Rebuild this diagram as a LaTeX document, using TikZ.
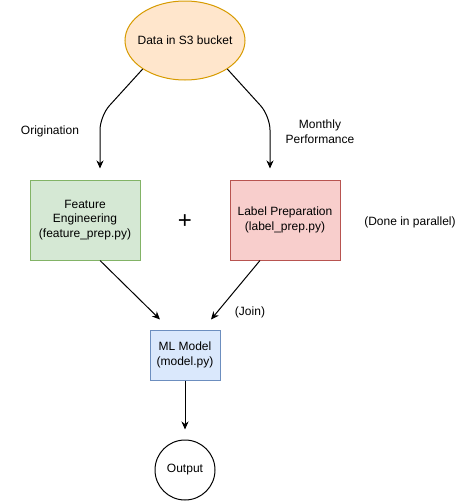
\documentclass[tikz,border=0pt]{standalone}
\usepackage{fontspec}
\setmainfont{Liberation Sans}
\usepackage{tikz}
\usetikzlibrary{shapes.geometric}
\usetikzlibrary{arrows.meta, positioning}

\definecolor{dataFill}{HTML}{FFE6CC}
\definecolor{dataLine}{HTML}{D79B00}
\definecolor{featFill}{HTML}{D5E8D4}
\definecolor{featLine}{HTML}{82B366}
\definecolor{labFill}{HTML}{F8CECC}
\definecolor{labLine}{HTML}{B85450}
\definecolor{mlFill}{HTML}{DAE8FC}
\definecolor{mlLine}{HTML}{6C8EBF}

\tikzset{
	box/.style={draw, line width=1pt, align=center, inner sep=2pt},
	arr/.style={-{Stealth[length=8pt,width=7pt,inset=2.5pt]}, line width=1pt},
}

\begin{document}
\begin{tikzpicture}[x=1pt,y=-1pt,font=\fontsize{12}{14.5}\selectfont]
		\useasboundingbox (0,0) rectangle (461,501);

		% sources and steps
		\node[ellipse, draw=dataLine, fill=dataFill, line width=1pt, minimum width=120pt, minimum height=79pt, inner sep=0pt, label=center:{Data in S3 bucket}] (data) at (185,40.5) {};
		\node[box, draw=featLine, fill=featFill, minimum width=110pt, minimum height=80pt] (feat) at (85,220) {Feature\\Engineering\\(feature\_prep.py)};
		\node[box, draw=labLine, fill=labFill, minimum width=110pt, minimum height=80pt] (lab) at (285,220) {Label Preparation\\(label\_prep.py)};
		\node[box, draw=mlLine, fill=mlFill, minimum width=70pt, minimum height=50pt] (ml) at (185,355) {ML Model\\(model.py)};
		\node[circle, draw, line width=1pt, minimum size=60pt, inner sep=0pt] (out) at (185,470) {Output};

		\node[font=\fontsize{24}{24}\selectfont] (plus) at (185,222) {+};
		\node (par) at (410,222) {(Done in parallel)};
		\node (orig) at (50,131) {Origination};
		\node[align=center] (month) at (320,131.5) {Monthly\\Performance};
		\node (join) at (250,312) {(Join)};

		% free ends of the arrows
		\coordinate (featIn) at ([xshift=15pt,yshift=11pt]feat.north);
		\coordinate (labIn) at ([xshift=-15pt,yshift=11pt]lab.north);
		\coordinate (mlInL) at ([xshift=-25pt,yshift=10pt]ml.north);
		\coordinate (mlInR) at ([xshift=26pt,yshift=10pt]ml.north);
		\coordinate (outIn) at ([yshift=10pt]out.north);

		\draw[arr, rounded corners=14pt] (data.214) -- (featIn |- 0,116) -- (featIn);
		\draw[arr, rounded corners=14pt] (data.326) -- (labIn |- 0,116) -- (labIn);
		\draw[arr] ([xshift=15pt]feat.south) -- (mlInL);
		\draw[arr] ([xshift=-25pt]lab.south) -- (mlInR);
		\draw[arr] (ml.south) -- (outIn);
	\end{tikzpicture}
\end{document}
